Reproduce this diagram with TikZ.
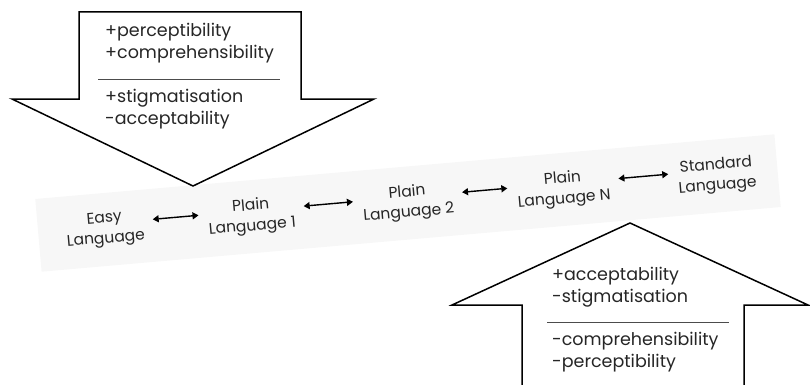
\documentclass[tikz,border=0pt]{standalone}
\usepackage{fontspec}
\setmainfont{Poppins}
\usepackage{tikz}
\usetikzlibrary{arrows,arrows.meta,positioning,calc}

\begin{document}
\begin{tikzpicture}[>={Triangle[length=6pt,width=7pt]},x=1pt,y=1pt,
  lang/.style={align=center,inner sep=0pt,text=black!85,
    font=\fontsize{15.5}{20.5}\selectfont},
  props/.style={anchor=west,align=left,inner sep=0pt,text=black!85,
    font=\fontsize{17.5}{22}\selectfont},
  bigarrow/.style={draw,fill=white,line width=1.5pt},
  rule/.style={draw=black!70,line width=0.8pt},
  link/.style={<->,line width=1.4pt,shorten <=9pt,shorten >=9pt}]
\useasboundingbox (0,0) rectangle (810,384);

% the scale of languages
\begin{scope}[shift={(408,181)},rotate=5,transform shape]
\fill[black!3] (-371,-36.5) rectangle (371,36.5);
\node[lang] (easy) at (-304,0) {Easy\\Language};
\node[lang] (plain1) at (-157,0) {Plain\\Language 1};
\node[lang] (plain2) at (0,0) {Plain\\Language 2};
\node[lang] (plainN) at (156,0) {Plain\\Language N};
\node[lang] (standard) at (310,0) {Standard\\Language};
\draw[link] ([yshift=6]easy.east) -- ([yshift=6]plain1.west);
\draw[link] ([yshift=6]plain1.east) -- ([yshift=6]plain2.west);
\draw[link] ([yshift=6]plain2.east) -- ([yshift=6]plainN.west);
\draw[link] ([yshift=6]plainN.east) -- ([yshift=6]standard.west);
\end{scope}

% down arrow
\draw[bigarrow]
(79,372) -- (301,372) -- (301,285) -- (374,285)
-- (193,198) -- (12,285) -- (79,285) -- cycle;
\node[props] (downtop) at (105,341) {+perceptibility\\+comprehensibility};
\node[props] (downbot) at (105,275) {+stigmatisation\\-acceptability};
\draw[rule] (98,305) -- (280,305);

% up arrow
\draw[bigarrow]
(522,-5) -- (522,79) -- (452,79) -- (630,161)
-- (808,79) -- (744,79) -- (744,-5);
\node[props] (uptop) at (552,96.5) {+acceptability\\-stigmatisation};
\node[props] (upbot) at (552,31.5) {-comprehensibility\\-perceptibility};
\draw[rule] (547,62) -- (729,62);

\end{tikzpicture}
\end{document}
